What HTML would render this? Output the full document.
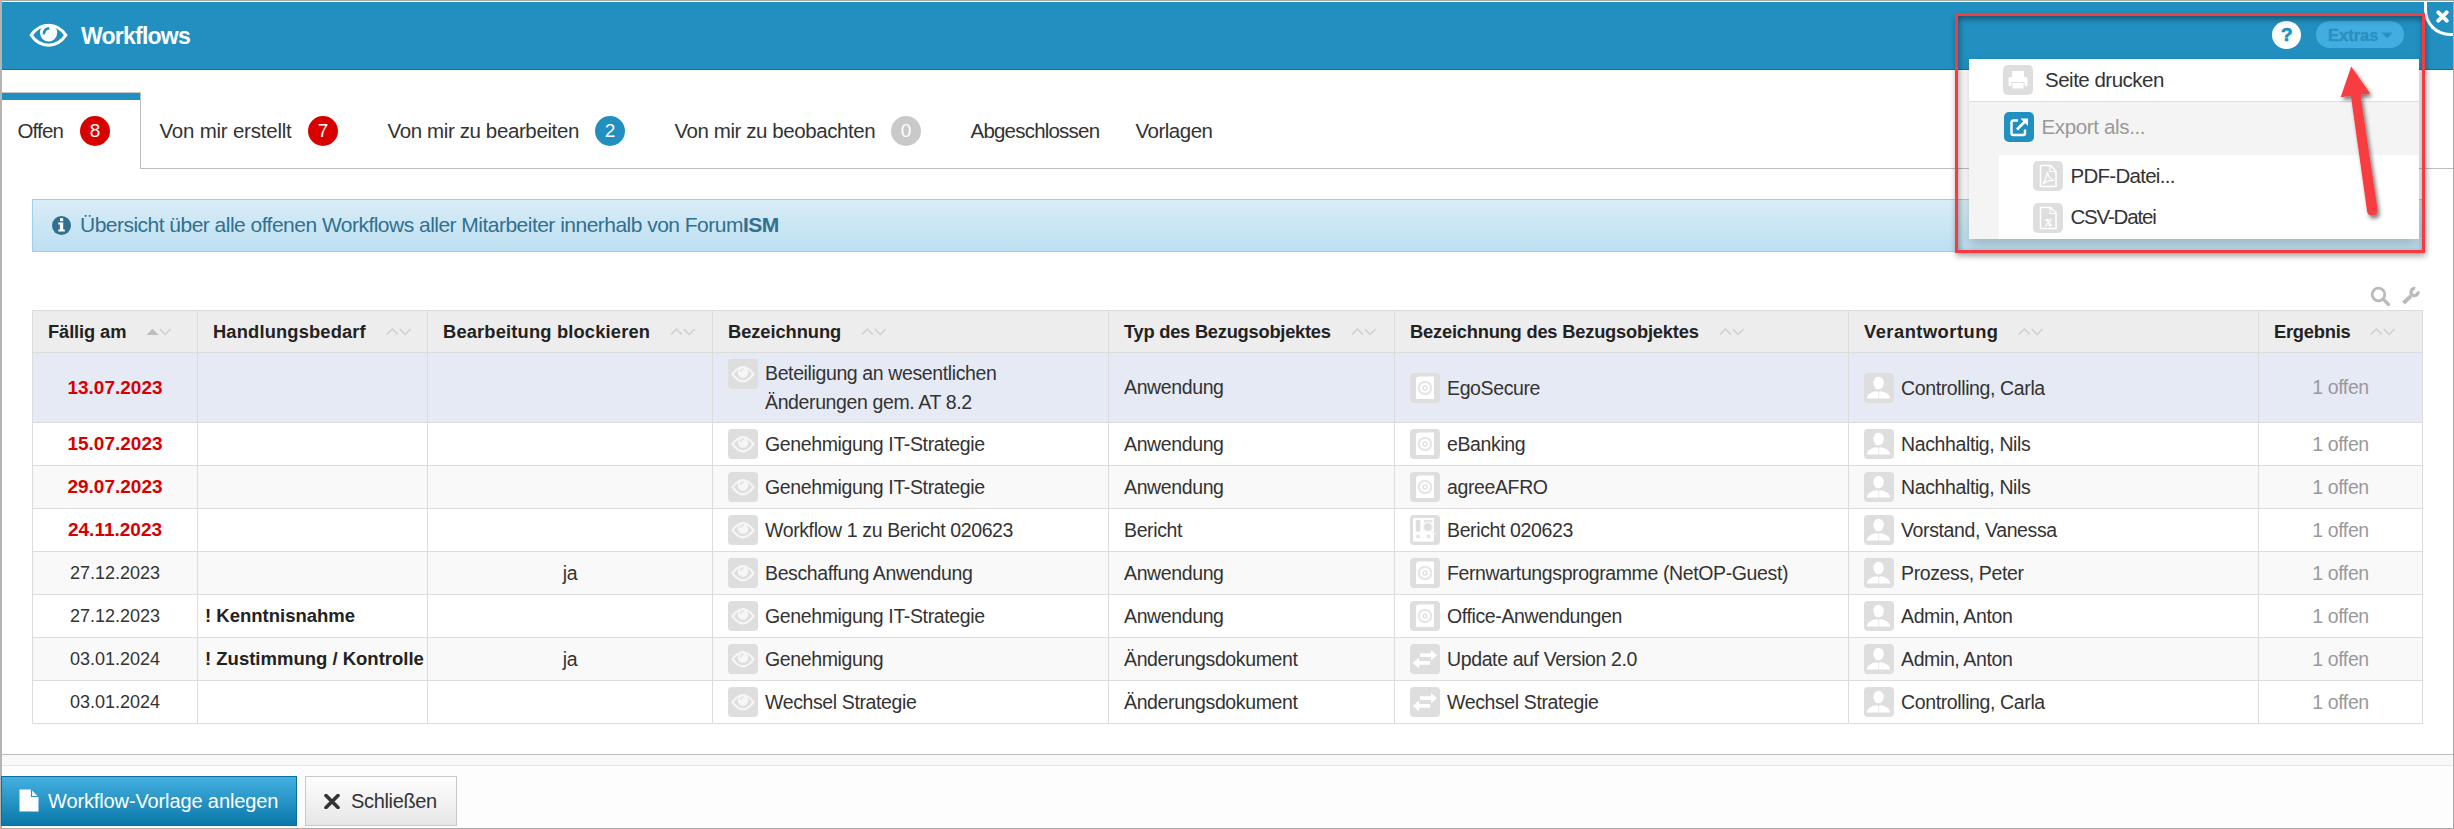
<!DOCTYPE html>
<html><head><meta charset="utf-8">
<style>
*{box-sizing:border-box;}
html,body{margin:0;padding:0;}
body{width:2454px;height:829px;position:relative;overflow:hidden;background:#fff;font-family:"Liberation Sans",sans-serif;color:#333;}
.abs{position:absolute;}
.txt{position:absolute;white-space:nowrap;line-height:1;}
/* frame */
#ftop{left:0;top:0;width:2454px;height:1px;background:#a9a9a9;}
#fleft{left:0;top:0;width:2px;height:829px;background:#b4b4b4;}
#fright{left:2453px;top:0;width:1px;height:829px;background:#a9a9a9;}
#fbot{left:0;top:828px;width:2454px;height:1px;background:#a9a9a9;}
/* header */
#hdr{left:2px;top:2px;width:2451px;height:68px;background:#2190c1;border-bottom:1px solid #0d72a4;}
#title{left:81px;top:24.5px;font-size:23px;letter-spacing:-0.76px;font-weight:bold;color:#fff;}
/* tabs */
#tabline{left:140px;top:168px;width:2313px;height:1px;background:#bdbdbd;}
#tabact{left:2px;top:92px;width:139px;height:77px;border-top:1px solid #c8c8c8;border-right:1px solid #bdbdbd;background:#fff;}
#tabact .bar{position:absolute;left:0;top:0;width:138px;height:7px;background:#2190c1;}
.tab{font-size:20.5px;color:#333;}
.badge{position:absolute;width:30px;height:30px;border-radius:50%;color:#fff;font-size:19px;text-align:center;line-height:30px;}
/* info */
#info{left:32px;top:199px;width:2391px;height:53px;border:1px solid #9fd0ea;background:linear-gradient(#d9edf7,#bddff1);}
#infotxt{left:80px;top:213.8px;font-size:21px;letter-spacing:-0.52px;color:#31708f;}
/* table */
#tbl{position:absolute;left:32px;top:310px;border-collapse:collapse;table-layout:fixed;width:2391px;}
#tbl td,#tbl th{border:1px solid #dcdcdc;padding:0 0 0 15px;font-size:19.5px;letter-spacing:-0.38px;white-space:nowrap;vertical-align:middle;color:#333;}
#tbl th{padding-left:15px;background:#ededed;height:42px;text-align:left;font-weight:bold;font-size:18.3px;color:#222;}
#tbl th .so{margin-left:20px;vertical-align:middle;position:relative;top:-1px;}
#tbl tr.r{height:43px;}
#tbl tr.r1{height:70px;}
#tbl tr.hl td{background:#e6eaf5;}
#tbl tr.st td{background:#f9f9f9;}
#tbl tr.wh td{background:#fff;}
#tbl td.date,#tbl td.ja,#tbl td.erg{text-align:center;padding:0;}
#tbl td.date{font-size:18px;letter-spacing:0;}
#tbl td.red{color:#d60000;font-weight:bold;font-size:19px;letter-spacing:0;}
#tbl td.hb{font-weight:bold;padding-left:7px;color:#222;font-size:18.5px;letter-spacing:0;}
#tbl td.erg{color:#999;}
.ic{display:inline-block;width:30px;height:30px;border-radius:4px;background:#dedede;vertical-align:middle;position:relative;margin-right:7px;}
.ic svg{position:absolute;left:0;top:0;}
.lbl{vertical-align:middle;}
#tbl td.bez1{vertical-align:top;padding-top:6px;}
#tbl td.bez1 .ic{vertical-align:top;}
#tbl td.bez1 .two{display:inline-block;vertical-align:top;line-height:29px;margin-top:0px;}
/* footer */
#fline1{left:2px;top:754px;width:2451px;height:1px;background:#bdbdbd;}
#fband{left:2px;top:755px;width:2451px;height:10px;background:#f9f9f9;}
#fline2{left:2px;top:765px;width:2451px;height:1px;background:#e6e6e6;}
#fbg{left:2px;top:766px;width:2451px;height:62px;background:#fdfdfd;}
#btn1{left:1px;top:776px;width:296px;height:50px;background:linear-gradient(#44b0e2,#0b78aa);border:1px solid #0b6e9e;}
#btn2{left:305px;top:776px;width:152px;height:50px;background:linear-gradient(#fefefe,#e6e6e6);border:1px solid #c9c9c9;}
</style></head><body>
<div class="abs" id="ftop"></div>
<div class="abs" id="fleft"></div>
<div class="abs" id="fright"></div>
<div class="abs" id="fbot"></div>

<div class="abs" id="hdr"></div>
<svg class="abs" style="left:29px;top:22px" width="40" height="26" viewBox="0 0 40 26">
  <path d="M2.2,13.2 C7,6 13,3.2 19.5,3.2 C26,3.2 32,6 36.8,13.2 C32,20.4 26,23.2 19.5,23.2 C13,23.2 7,20.4 2.2,13.2Z" fill="none" stroke="#fff" stroke-width="3"/>
  <circle cx="19.6" cy="10.8" r="8.6" fill="#fff"/>
  <path d="M20.2,6.4 C17,6.5 15,9 14.8,12.4" fill="none" stroke="#2190c1" stroke-width="2.6"/>
</svg>
<div class="txt" id="title">Workflows</div>

<!-- tabs -->
<div class="abs" id="tabline"></div>
<div class="abs" id="tabact"><div class="bar"></div></div>
<div class="txt tab" style="left:17.5px;top:120.6px;letter-spacing:-0.84px">Offen</div>
<div class="badge" style="left:80px;top:116px;background:#d90000">8</div>
<div class="txt tab" style="left:159.5px;top:120.6px;letter-spacing:-0.22px">Von mir erstellt</div>
<div class="badge" style="left:308px;top:116px;background:#d90000">7</div>
<div class="txt tab" style="left:387.5px;top:120.6px;letter-spacing:-0.38px">Von mir zu bearbeiten</div>
<div class="badge" style="left:595px;top:116px;background:#2190c1">2</div>
<div class="txt tab" style="left:674.5px;top:120.6px;letter-spacing:-0.43px">Von mir zu beobachten</div>
<div class="badge" style="left:891px;top:116px;background:#c9c9c9">0</div>
<div class="txt tab" style="left:970.5px;top:120.6px;letter-spacing:-0.79px">Abgeschlossen</div>
<div class="txt tab" style="left:1135.5px;top:120.6px;letter-spacing:-0.5px">Vorlagen</div>

<!-- info -->
<div class="abs" id="info"></div>
<div class="abs" style="left:52px;top:215.5px;width:19px;height:19px;border-radius:50%;background:#31708f;"></div>
<svg class="abs" style="left:52px;top:215.5px" width="19" height="19" viewBox="0 0 19 19"><rect x="8" y="2.2" width="3.2" height="3" fill="#fff"/><path d="M6.3,6.6 H11.2 V13.6 H12.8 V15.6 H6.3 V13.6 H7.9 V8.6 H6.3Z" fill="#fff"/></svg>
<div class="txt" id="infotxt">Übersicht über alle offenen Workflows aller Mitarbeiter innerhalb von Forum<b>ISM</b></div>

<!--TABLE-->
<table id="tbl"><colgroup><col style="width:165px"><col style="width:230px"><col style="width:285px"><col style="width:396px"><col style="width:286px"><col style="width:454px"><col style="width:410px"><col style="width:164px"></colgroup>
<tr class="h"><th><span class="ht" style="letter-spacing:-0.1px">Fällig am</span><svg class="so" width="26" height="10" viewBox="0 0 26 10"><path d="M0.5,8 L6.5,1.8 L12.5,8Z" fill="#bcbcbc"/><path d="M13.8,2 L19.2,7.4 L24.6,2" fill="none" stroke="#cfcfcf" stroke-width="1.4"/></svg></th><th><span class="ht" style="letter-spacing:0.17px">Handlungsbedarf</span><svg class="so" width="26" height="10" viewBox="0 0 26 10"><path d="M1,7.4 L6.4,2 L11.8,7.4" fill="none" stroke="#cfcfcf" stroke-width="1.4"/><path d="M13.8,2 L19.2,7.4 L24.6,2" fill="none" stroke="#cfcfcf" stroke-width="1.4"/></svg></th><th><span class="ht" style="letter-spacing:0.18px">Bearbeitung blockieren</span><svg class="so" width="26" height="10" viewBox="0 0 26 10"><path d="M1,7.4 L6.4,2 L11.8,7.4" fill="none" stroke="#cfcfcf" stroke-width="1.4"/><path d="M13.8,2 L19.2,7.4 L24.6,2" fill="none" stroke="#cfcfcf" stroke-width="1.4"/></svg></th><th><span class="ht" style="letter-spacing:-0.05px">Bezeichnung</span><svg class="so" width="26" height="10" viewBox="0 0 26 10"><path d="M1,7.4 L6.4,2 L11.8,7.4" fill="none" stroke="#cfcfcf" stroke-width="1.4"/><path d="M13.8,2 L19.2,7.4 L24.6,2" fill="none" stroke="#cfcfcf" stroke-width="1.4"/></svg></th><th><span class="ht" style="letter-spacing:-0.24px">Typ des Bezugsobjektes</span><svg class="so" width="26" height="10" viewBox="0 0 26 10"><path d="M1,7.4 L6.4,2 L11.8,7.4" fill="none" stroke="#cfcfcf" stroke-width="1.4"/><path d="M13.8,2 L19.2,7.4 L24.6,2" fill="none" stroke="#cfcfcf" stroke-width="1.4"/></svg></th><th><span class="ht" style="letter-spacing:-0.2px">Bezeichnung des Bezugsobjektes</span><svg class="so" width="26" height="10" viewBox="0 0 26 10"><path d="M1,7.4 L6.4,2 L11.8,7.4" fill="none" stroke="#cfcfcf" stroke-width="1.4"/><path d="M13.8,2 L19.2,7.4 L24.6,2" fill="none" stroke="#cfcfcf" stroke-width="1.4"/></svg></th><th><span class="ht" style="letter-spacing:0.5px">Verantwortung</span><svg class="so" width="26" height="10" viewBox="0 0 26 10"><path d="M1,7.4 L6.4,2 L11.8,7.4" fill="none" stroke="#cfcfcf" stroke-width="1.4"/><path d="M13.8,2 L19.2,7.4 L24.6,2" fill="none" stroke="#cfcfcf" stroke-width="1.4"/></svg></th><th><span class="ht" style="letter-spacing:-0.22px">Ergebnis</span><svg class="so" width="26" height="10" viewBox="0 0 26 10"><path d="M1,7.4 L6.4,2 L11.8,7.4" fill="none" stroke="#cfcfcf" stroke-width="1.4"/><path d="M13.8,2 L19.2,7.4 L24.6,2" fill="none" stroke="#cfcfcf" stroke-width="1.4"/></svg></th></tr>
<tr class="r hl r1"><td class="date red">13.07.2023</td><td class="hb"></td><td class="ja"></td><td class="bez bez1"><span class="ic"><svg width="30" height="30" viewBox="0 0 30 30"><path d="M4.5,15.2 C9,9 12,8 15,8 C18,8 21,9 25.5,15.2 C21,21.4 18,22.4 15,22.4 C12,22.4 9,21.4 4.5,15.2Z" fill="none" stroke="#f6f6f6" stroke-width="2.2"/><circle cx="15" cy="13.6" r="5.2" fill="#f6f6f6"/><path d="M15.8,10 C14,10 12.8,11.2 12.6,13" fill="none" stroke="#dedede" stroke-width="1.3"/></svg></span><span class="two">Beteiligung an wesentlichen<br>Änderungen gem. AT 8.2</span></td><td class="typ">Anwendung</td><td class="obj"><span class="ic"><svg width="30" height="30" viewBox="0 0 30 30"><path d="M9,3.4 H24 V26.1 H6 V6.4 Q6,3.4 9,3.4Z" fill="#fff"/><circle cx="15" cy="15" r="6.2" fill="none" stroke="#e6e6e6" stroke-width="2.2"/><circle cx="15" cy="15" r="2" fill="none" stroke="#e2e2e2" stroke-width="1.5"/></svg></span><span class="lbl">EgoSecure</span></td><td class="per"><span class="ic"><svg width="30" height="30" viewBox="0 0 30 30"><ellipse cx="14.6" cy="10" rx="5.2" ry="6.3" fill="#fff"/><path d="M2.8,25.6 C3.5,21 7,19.5 11.5,18.3 L14.1,18.8 L14.1,25.6Z M26.3,25.6 C25.6,21 22,19.5 17.5,18.3 L15.1,18.8 L15.1,25.6Z" fill="#fff"/><path d="M14.1,18.5 H15.1 V25.6 H14.1Z" fill="#f0f0f0"/></svg></span><span class="lbl">Controlling, Carla</span></td><td class="erg">1 offen</td></tr>
<tr class="r wh"><td class="date red">15.07.2023</td><td class="hb"></td><td class="ja"></td><td class="bez"><span class="ic"><svg width="30" height="30" viewBox="0 0 30 30"><path d="M4.5,15.2 C9,9 12,8 15,8 C18,8 21,9 25.5,15.2 C21,21.4 18,22.4 15,22.4 C12,22.4 9,21.4 4.5,15.2Z" fill="none" stroke="#f6f6f6" stroke-width="2.2"/><circle cx="15" cy="13.6" r="5.2" fill="#f6f6f6"/><path d="M15.8,10 C14,10 12.8,11.2 12.6,13" fill="none" stroke="#dedede" stroke-width="1.3"/></svg></span><span class="lbl">Genehmigung IT-Strategie</span></td><td class="typ">Anwendung</td><td class="obj"><span class="ic"><svg width="30" height="30" viewBox="0 0 30 30"><path d="M9,3.4 H24 V26.1 H6 V6.4 Q6,3.4 9,3.4Z" fill="#fff"/><circle cx="15" cy="15" r="6.2" fill="none" stroke="#e6e6e6" stroke-width="2.2"/><circle cx="15" cy="15" r="2" fill="none" stroke="#e2e2e2" stroke-width="1.5"/></svg></span><span class="lbl">eBanking</span></td><td class="per"><span class="ic"><svg width="30" height="30" viewBox="0 0 30 30"><ellipse cx="14.6" cy="10" rx="5.2" ry="6.3" fill="#fff"/><path d="M2.8,25.6 C3.5,21 7,19.5 11.5,18.3 L14.1,18.8 L14.1,25.6Z M26.3,25.6 C25.6,21 22,19.5 17.5,18.3 L15.1,18.8 L15.1,25.6Z" fill="#fff"/><path d="M14.1,18.5 H15.1 V25.6 H14.1Z" fill="#f0f0f0"/></svg></span><span class="lbl">Nachhaltig, Nils</span></td><td class="erg">1 offen</td></tr>
<tr class="r st"><td class="date red">29.07.2023</td><td class="hb"></td><td class="ja"></td><td class="bez"><span class="ic"><svg width="30" height="30" viewBox="0 0 30 30"><path d="M4.5,15.2 C9,9 12,8 15,8 C18,8 21,9 25.5,15.2 C21,21.4 18,22.4 15,22.4 C12,22.4 9,21.4 4.5,15.2Z" fill="none" stroke="#f6f6f6" stroke-width="2.2"/><circle cx="15" cy="13.6" r="5.2" fill="#f6f6f6"/><path d="M15.8,10 C14,10 12.8,11.2 12.6,13" fill="none" stroke="#dedede" stroke-width="1.3"/></svg></span><span class="lbl">Genehmigung IT-Strategie</span></td><td class="typ">Anwendung</td><td class="obj"><span class="ic"><svg width="30" height="30" viewBox="0 0 30 30"><path d="M9,3.4 H24 V26.1 H6 V6.4 Q6,3.4 9,3.4Z" fill="#fff"/><circle cx="15" cy="15" r="6.2" fill="none" stroke="#e6e6e6" stroke-width="2.2"/><circle cx="15" cy="15" r="2" fill="none" stroke="#e2e2e2" stroke-width="1.5"/></svg></span><span class="lbl">agreeAFRO</span></td><td class="per"><span class="ic"><svg width="30" height="30" viewBox="0 0 30 30"><ellipse cx="14.6" cy="10" rx="5.2" ry="6.3" fill="#fff"/><path d="M2.8,25.6 C3.5,21 7,19.5 11.5,18.3 L14.1,18.8 L14.1,25.6Z M26.3,25.6 C25.6,21 22,19.5 17.5,18.3 L15.1,18.8 L15.1,25.6Z" fill="#fff"/><path d="M14.1,18.5 H15.1 V25.6 H14.1Z" fill="#f0f0f0"/></svg></span><span class="lbl">Nachhaltig, Nils</span></td><td class="erg">1 offen</td></tr>
<tr class="r wh"><td class="date red">24.11.2023</td><td class="hb"></td><td class="ja"></td><td class="bez"><span class="ic"><svg width="30" height="30" viewBox="0 0 30 30"><path d="M4.5,15.2 C9,9 12,8 15,8 C18,8 21,9 25.5,15.2 C21,21.4 18,22.4 15,22.4 C12,22.4 9,21.4 4.5,15.2Z" fill="none" stroke="#f6f6f6" stroke-width="2.2"/><circle cx="15" cy="13.6" r="5.2" fill="#f6f6f6"/><path d="M15.8,10 C14,10 12.8,11.2 12.6,13" fill="none" stroke="#dedede" stroke-width="1.3"/></svg></span><span class="lbl">Workflow 1 zu Bericht 020623</span></td><td class="typ">Bericht</td><td class="obj"><span class="ic"><svg width="30" height="30" viewBox="0 0 30 30"><rect x="3" y="3" width="21" height="23.6" fill="#fff"/><rect x="5.8" y="4.9" width="4.6" height="11.6" fill="#dedede"/><rect x="14" y="4.8" width="8.5" height="3" fill="#e6e6e6"/><circle cx="17.9" cy="12.1" r="4.4" fill="#dedede" stroke="#f6f6f6" stroke-width="1.3"/><path d="M21,15.5 L26,19.5" stroke="#f2f2f2" stroke-width="1.5"/><rect x="6.4" y="19.8" width="3.4" height="3.4" fill="#e2e2e2"/><rect x="16.9" y="19.8" width="3.4" height="3.4" fill="#e2e2e2"/></svg></span><span class="lbl">Bericht 020623</span></td><td class="per"><span class="ic"><svg width="30" height="30" viewBox="0 0 30 30"><ellipse cx="14.6" cy="10" rx="5.2" ry="6.3" fill="#fff"/><path d="M2.8,25.6 C3.5,21 7,19.5 11.5,18.3 L14.1,18.8 L14.1,25.6Z M26.3,25.6 C25.6,21 22,19.5 17.5,18.3 L15.1,18.8 L15.1,25.6Z" fill="#fff"/><path d="M14.1,18.5 H15.1 V25.6 H14.1Z" fill="#f0f0f0"/></svg></span><span class="lbl">Vorstand, Vanessa</span></td><td class="erg">1 offen</td></tr>
<tr class="r st"><td class="date">27.12.2023</td><td class="hb"></td><td class="ja">ja</td><td class="bez"><span class="ic"><svg width="30" height="30" viewBox="0 0 30 30"><path d="M4.5,15.2 C9,9 12,8 15,8 C18,8 21,9 25.5,15.2 C21,21.4 18,22.4 15,22.4 C12,22.4 9,21.4 4.5,15.2Z" fill="none" stroke="#f6f6f6" stroke-width="2.2"/><circle cx="15" cy="13.6" r="5.2" fill="#f6f6f6"/><path d="M15.8,10 C14,10 12.8,11.2 12.6,13" fill="none" stroke="#dedede" stroke-width="1.3"/></svg></span><span class="lbl">Beschaffung Anwendung</span></td><td class="typ">Anwendung</td><td class="obj"><span class="ic"><svg width="30" height="30" viewBox="0 0 30 30"><path d="M9,3.4 H24 V26.1 H6 V6.4 Q6,3.4 9,3.4Z" fill="#fff"/><circle cx="15" cy="15" r="6.2" fill="none" stroke="#e6e6e6" stroke-width="2.2"/><circle cx="15" cy="15" r="2" fill="none" stroke="#e2e2e2" stroke-width="1.5"/></svg></span><span class="lbl">Fernwartungsprogramme (NetOP-Guest)</span></td><td class="per"><span class="ic"><svg width="30" height="30" viewBox="0 0 30 30"><ellipse cx="14.6" cy="10" rx="5.2" ry="6.3" fill="#fff"/><path d="M2.8,25.6 C3.5,21 7,19.5 11.5,18.3 L14.1,18.8 L14.1,25.6Z M26.3,25.6 C25.6,21 22,19.5 17.5,18.3 L15.1,18.8 L15.1,25.6Z" fill="#fff"/><path d="M14.1,18.5 H15.1 V25.6 H14.1Z" fill="#f0f0f0"/></svg></span><span class="lbl">Prozess, Peter</span></td><td class="erg">1 offen</td></tr>
<tr class="r wh"><td class="date">27.12.2023</td><td class="hb">! Kenntnisnahme</td><td class="ja"></td><td class="bez"><span class="ic"><svg width="30" height="30" viewBox="0 0 30 30"><path d="M4.5,15.2 C9,9 12,8 15,8 C18,8 21,9 25.5,15.2 C21,21.4 18,22.4 15,22.4 C12,22.4 9,21.4 4.5,15.2Z" fill="none" stroke="#f6f6f6" stroke-width="2.2"/><circle cx="15" cy="13.6" r="5.2" fill="#f6f6f6"/><path d="M15.8,10 C14,10 12.8,11.2 12.6,13" fill="none" stroke="#dedede" stroke-width="1.3"/></svg></span><span class="lbl">Genehmigung IT-Strategie</span></td><td class="typ">Anwendung</td><td class="obj"><span class="ic"><svg width="30" height="30" viewBox="0 0 30 30"><path d="M9,3.4 H24 V26.1 H6 V6.4 Q6,3.4 9,3.4Z" fill="#fff"/><circle cx="15" cy="15" r="6.2" fill="none" stroke="#e6e6e6" stroke-width="2.2"/><circle cx="15" cy="15" r="2" fill="none" stroke="#e2e2e2" stroke-width="1.5"/></svg></span><span class="lbl">Office-Anwendungen</span></td><td class="per"><span class="ic"><svg width="30" height="30" viewBox="0 0 30 30"><ellipse cx="14.6" cy="10" rx="5.2" ry="6.3" fill="#fff"/><path d="M2.8,25.6 C3.5,21 7,19.5 11.5,18.3 L14.1,18.8 L14.1,25.6Z M26.3,25.6 C25.6,21 22,19.5 17.5,18.3 L15.1,18.8 L15.1,25.6Z" fill="#fff"/><path d="M14.1,18.5 H15.1 V25.6 H14.1Z" fill="#f0f0f0"/></svg></span><span class="lbl">Admin, Anton</span></td><td class="erg">1 offen</td></tr>
<tr class="r st"><td class="date">03.01.2024</td><td class="hb">! Zustimmung / Kontrolle</td><td class="ja">ja</td><td class="bez"><span class="ic"><svg width="30" height="30" viewBox="0 0 30 30"><path d="M4.5,15.2 C9,9 12,8 15,8 C18,8 21,9 25.5,15.2 C21,21.4 18,22.4 15,22.4 C12,22.4 9,21.4 4.5,15.2Z" fill="none" stroke="#f6f6f6" stroke-width="2.2"/><circle cx="15" cy="13.6" r="5.2" fill="#f6f6f6"/><path d="M15.8,10 C14,10 12.8,11.2 12.6,13" fill="none" stroke="#dedede" stroke-width="1.3"/></svg></span><span class="lbl">Genehmigung</span></td><td class="typ">Änderungsdokument</td><td class="obj"><span class="ic"><svg width="30" height="30" viewBox="0 0 30 30"><path d="M10,9.2 H21 V6.1 L27.1,11.2 L21,16.2 V13.1 H10Z" fill="#fff"/><path d="M20.1,17 H9 V13.6 L2.7,18.9 L9,24.2 V20.8 H20.1Z" fill="#fff"/></svg></span><span class="lbl">Update auf Version 2.0</span></td><td class="per"><span class="ic"><svg width="30" height="30" viewBox="0 0 30 30"><ellipse cx="14.6" cy="10" rx="5.2" ry="6.3" fill="#fff"/><path d="M2.8,25.6 C3.5,21 7,19.5 11.5,18.3 L14.1,18.8 L14.1,25.6Z M26.3,25.6 C25.6,21 22,19.5 17.5,18.3 L15.1,18.8 L15.1,25.6Z" fill="#fff"/><path d="M14.1,18.5 H15.1 V25.6 H14.1Z" fill="#f0f0f0"/></svg></span><span class="lbl">Admin, Anton</span></td><td class="erg">1 offen</td></tr>
<tr class="r wh"><td class="date">03.01.2024</td><td class="hb"></td><td class="ja"></td><td class="bez"><span class="ic"><svg width="30" height="30" viewBox="0 0 30 30"><path d="M4.5,15.2 C9,9 12,8 15,8 C18,8 21,9 25.5,15.2 C21,21.4 18,22.4 15,22.4 C12,22.4 9,21.4 4.5,15.2Z" fill="none" stroke="#f6f6f6" stroke-width="2.2"/><circle cx="15" cy="13.6" r="5.2" fill="#f6f6f6"/><path d="M15.8,10 C14,10 12.8,11.2 12.6,13" fill="none" stroke="#dedede" stroke-width="1.3"/></svg></span><span class="lbl">Wechsel Strategie</span></td><td class="typ">Änderungsdokument</td><td class="obj"><span class="ic"><svg width="30" height="30" viewBox="0 0 30 30"><path d="M10,9.2 H21 V6.1 L27.1,11.2 L21,16.2 V13.1 H10Z" fill="#fff"/><path d="M20.1,17 H9 V13.6 L2.7,18.9 L9,24.2 V20.8 H20.1Z" fill="#fff"/></svg></span><span class="lbl">Wechsel Strategie</span></td><td class="per"><span class="ic"><svg width="30" height="30" viewBox="0 0 30 30"><ellipse cx="14.6" cy="10" rx="5.2" ry="6.3" fill="#fff"/><path d="M2.8,25.6 C3.5,21 7,19.5 11.5,18.3 L14.1,18.8 L14.1,25.6Z M26.3,25.6 C25.6,21 22,19.5 17.5,18.3 L15.1,18.8 L15.1,25.6Z" fill="#fff"/><path d="M14.1,18.5 H15.1 V25.6 H14.1Z" fill="#f0f0f0"/></svg></span><span class="lbl">Controlling, Carla</span></td><td class="erg">1 offen</td></tr>
</table>
<!--/TABLE-->

<!-- footer -->
<div class="abs" id="fline1"></div>
<div class="abs" id="fband"></div>
<div class="abs" id="fline2"></div>
<div class="abs" id="fbg"></div>
<div class="abs" id="btn1"></div>
<svg class="abs" style="left:19px;top:789px" width="20" height="23" viewBox="0 0 20 23"><path d="M0.5,0.5 H12 L19.5,8 V22.5 H0.5Z" fill="#fff"/><path d="M12.5,0.5 V7.5 H19.5" fill="none" stroke="#2a8fc4" stroke-width="1.2"/></svg>
<div class="txt" style="left:48px;top:791px;font-size:20px;letter-spacing:-0.12px;color:#fff;">Workflow-Vorlage anlegen</div>
<div class="abs" id="btn2"></div>
<svg class="abs" style="left:324px;top:794px" width="16" height="15" viewBox="0 0 16 15"><path d="M2,1.5 L14,13.5 M14,1.5 L2,13.5" stroke="#333" stroke-width="3.6" stroke-linecap="round"/></svg>
<div class="txt" style="left:351px;top:791px;font-size:20px;letter-spacing:-0.34px;color:#333;">Schließen</div>

<!--MENU-->
<!-- header right buttons -->
<div class="abs" style="left:2272px;top:21px;width:29px;height:28px;border-radius:50%;background:#fff;"></div>
<div class="txt" style="left:2281px;top:25px;font-size:19px;font-weight:bold;color:#2190c1;-webkit-text-stroke:0.7px #2190c1;">?</div>
<div class="abs" style="left:2316px;top:21px;width:88px;height:27px;border-radius:14px;background:#42ade0;"></div>
<div class="txt" style="left:2328px;top:27px;font-size:16.5px;font-weight:bold;color:#2a8fc1;-webkit-text-stroke:0.4px #2a8fc1;">Extras</div>
<svg class="abs" style="left:2381px;top:32px" width="12" height="7" viewBox="0 0 12 7"><path d="M0.5,0.5 H11.5 L6,6.5Z" fill="#2a8fc1"/></svg>
<!-- close button -->
<div class="abs" style="left:2424px;top:2px;width:29px;height:34px;border-left:3px solid #fff;border-bottom:3px solid #fff;border-bottom-left-radius:26px;background:#2190c1;"></div>
<div class="abs" style="left:2453px;top:0;width:1px;height:829px;background:#a9a9a9;"></div>
<svg class="abs" style="left:2436px;top:10px" width="13" height="13" viewBox="0 0 13 13"><path d="M2.3,2.3 L10.7,10.7 M10.7,2.3 L2.3,10.7" stroke="#fff" stroke-width="3.8" stroke-linecap="round"/></svg>
<!-- search & wrench -->
<svg class="abs" style="left:2370px;top:286px" width="22" height="22" viewBox="0 0 22 22"><circle cx="8.5" cy="8.5" r="6.3" fill="none" stroke="#bababa" stroke-width="2.8"/><path d="M13.2,13.2 L18.5,18.5" stroke="#bababa" stroke-width="3.2" stroke-linecap="round"/></svg>
<svg class="abs" style="left:2399px;top:285px" width="22" height="22" viewBox="0 0 22 22"><path d="M4.5,18 L12,11" stroke="#bababa" stroke-width="3.8"/><path d="M19.05,6.37 A3.6,3.6 0 1 1 16.13,3.46" fill="none" stroke="#bababa" stroke-width="3.2"/></svg>
<!-- red rect shadow -->
<div class="abs" style="left:1955px;top:13px;width:470px;height:240px;border:3px solid transparent;box-shadow:1px 3px 6px rgba(0,0,0,0.35), inset 1px 3px 6px rgba(0,0,0,0.42);"></div>
<!-- dropdown -->
<div class="abs" id="dd" style="left:1969px;top:59px;width:450px;height:180px;background:#fff;box-shadow:0 6px 12px rgba(0,0,0,0.2);"></div>
<div class="abs" style="left:1969px;top:101px;width:450px;height:1px;background:#dedede;"></div>
<div class="abs" style="left:1969px;top:102px;width:450px;height:53px;background:#f4f4f4;"></div>
<div class="abs" style="left:1969px;top:155px;width:30px;height:84px;background:#f4f4f4;"></div>
<!-- printer icon -->
<div class="abs" style="left:2003px;top:65px;width:30px;height:30px;border-radius:5px;background:#dedede;"></div>
<svg class="abs" style="left:2003px;top:65px" width="30" height="30" viewBox="0 0 30 30"><rect x="9" y="6" width="12" height="6" fill="#fff"/><rect x="5.5" y="12" width="19" height="9" rx="1.5" fill="#fff"/><rect x="9" y="17.5" width="12" height="6.5" fill="#fff" stroke="#dedede" stroke-width="1"/></svg>
<div class="txt" style="left:2045px;top:70px;font-size:20.5px;letter-spacing:-0.5px;color:#333;">Seite drucken</div>
<!-- export icon -->
<div class="abs" style="left:2004px;top:112px;width:30px;height:30px;border-radius:5px;background:#2190c1;"></div>
<svg class="abs" style="left:2004px;top:112px" width="30" height="30" viewBox="0 0 30 30"><path d="M14,8.5 H9.5 Q7.5,8.5 7.5,10.5 V21 Q7.5,23 9.5,23 H19 Q21,23 21,21 V17.5" fill="none" stroke="#fff" stroke-width="2.4"/><path d="M13,17.5 L21.5,9" stroke="#fff" stroke-width="2.6"/><path d="M16.5,6.5 H24 V14Z" fill="#fff"/></svg>
<div class="txt" style="left:2041.5px;top:117.1px;font-size:20.5px;letter-spacing:-0.35px;color:#999;">Export als...</div>
<!-- pdf icon -->
<div class="abs" style="left:2033px;top:161px;width:30px;height:30px;border-radius:5px;background:#dedede;"></div>
<svg class="abs" style="left:2033px;top:161px" width="30" height="30" viewBox="0 0 30 30"><path d="M7.5,4.5 H17.5 L23,10 V25.5 H7.5Z" fill="none" stroke="#fff" stroke-width="1.5"/><path d="M17,4.5 V10.5 H23" fill="none" stroke="#fff" stroke-width="1.2"/><path d="M10,23 C12,19 14,15 14.5,11 C15,15 17,18 21,19.5 C17,19 13,20 10,23Z" fill="none" stroke="#fff" stroke-width="1.2"/></svg>
<div class="txt" style="left:2070.5px;top:165.7px;font-size:20.5px;letter-spacing:-0.72px;color:#333;">PDF-Datei...</div>
<!-- csv icon -->
<div class="abs" style="left:2033px;top:203px;width:30px;height:30px;border-radius:5px;background:#dedede;"></div>
<svg class="abs" style="left:2033px;top:203px" width="30" height="30" viewBox="0 0 30 30"><path d="M7.5,4.5 H17.5 L23,10 V25.5 H7.5Z" fill="none" stroke="#fff" stroke-width="1.5"/><path d="M17,4.5 V10.5 H23" fill="none" stroke="#fff" stroke-width="1.2"/><text x="15.5" y="23" font-family="Liberation Serif" font-weight="bold" font-size="15" fill="#fff" text-anchor="middle">x</text></svg>
<div class="txt" style="left:2070.5px;top:207.2px;font-size:20.5px;letter-spacing:-1.19px;color:#333;">CSV-Datei</div>
<!-- red rect -->
<div class="abs" style="left:1955px;top:13px;width:470px;height:240px;border:3px solid #f73c41;"></div>
<!-- arrow -->
<svg class="abs" style="left:2330px;top:55px;overflow:visible" width="60" height="170" viewBox="0 0 60 170">
 <defs><filter id="sh" x="-50%" y="-50%" width="200%" height="200%"><feGaussianBlur in="SourceAlpha" stdDeviation="2.2"/><feOffset dx="2" dy="3"/><feComponentTransfer><feFuncA type="linear" slope="0.55"/></feComponentTransfer><feMerge><feMergeNode/><feMergeNode in="SourceGraphic"/></feMerge></filter></defs>
 <g filter="url(#sh)" fill="#f73c41">
  <path d="M21.2,11.6 L10.7,42.2 L40.2,38.4Z"/>
  <path d="M20.5,38 L30,37 L47.5,154 Q48,160 42.5,160.5 Q37.5,161 37,155.5Z"/>
 </g>
</svg>

</body></html>
